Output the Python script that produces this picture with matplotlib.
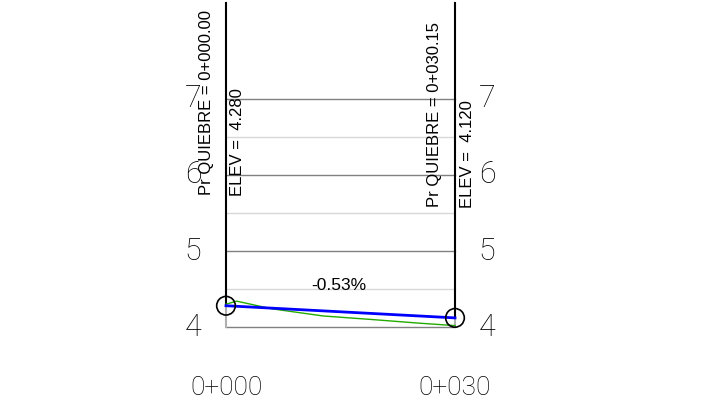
import matplotlib
matplotlib.use('Agg')
import matplotlib.pyplot as plt

# profile data
pvi_station = [0.0, 30.15]
pvi_elev = [4.280, 4.120]
pvi_labels = ['Pr QUIEBRE = 0+000.00', 'Pr QUIEBRE = 0+030.15']
elev_labels = ['ELEV =  4.280', 'ELEV =  4.120']
grade_label = '-0.53%'

ground_station = [0.0, 1.4, 6.0, 12.8, 19.0, 25.5, 29.9, 30.15]
ground_elev = [4.30, 4.34, 4.24, 4.145, 4.10, 4.05, 4.02, 4.02]

major_elev = [4, 5, 6, 7]
minor_elev = [4.5, 5.5, 6.5]
station_ticks = [0, 30]
station_labels = ['0+000', '0+030']

# pixel mapping of the reference
px_per_m = (455 - 226) / 30.15
px_per_unit = 76.0
x0 = -226 / px_per_m
x1 = (720 - 226) / px_per_m
y0 = 4 - (412 - 327) / px_per_unit
y1 = 4 + 327 / px_per_unit
top = 4 + (327 - 3) / px_per_unit

narrow = ['Liberation Sans', 'DejaVu Sans']
thin = ['Roboto', 'DejaVu Sans']

fig = plt.figure(figsize=(7.2, 4.12), dpi=100)
ax = fig.add_axes([0, 0, 1, 1])
ax.set_xlim(x0, x1)
ax.set_ylim(y0, y1)
ax.axis('off')

for e in minor_elev:
    ax.plot(pvi_station, [e, e], color='#d8d8d8', lw=1)
for e in major_elev:
    ax.plot(pvi_station, [e, e], color='#808080', lw=1)

for s, e in zip(pvi_station, pvi_elev):
    ax.plot([s, s], [major_elev[0], e], color='#b0b0b0', lw=1.5)
    ax.plot([s, s], [e, top], color='black', lw=1.5)

ax.plot(ground_station, ground_elev, color='#22aa00', lw=1)
ax.plot(pvi_station, pvi_elev, color='#0000ff', lw=2)
ax.scatter(pvi_station, pvi_elev, s=180, facecolors='none', edgecolors='black', lw=1.2, zorder=5)

ax.text(sum(pvi_station) / 2 - 0.2, (pvi_elev[0] + pvi_elev[1]) / 2 + 0.34, grade_label,
        ha='center', va='center', fontsize=12.5, family=narrow)

for i, (s, lab, el) in enumerate(zip(pvi_station, pvi_labels, elev_labels)):
    bottom = 195 if i == 0 else 207
    dx = -20 if i == 0 else -21
    ax.text(s + dx / px_per_m, 4 + (327 - bottom) / px_per_unit, lab,
            rotation=90, ha='center', va='bottom', fontsize=12, family=narrow)
    ax.text(s + 12 / px_per_m, 4 + (327 - bottom - 1) / px_per_unit,
            el, rotation=90, ha='center', va='bottom', fontsize=12, family=narrow)

for e in major_elev:
    ax.text(pvi_station[0] - 33 / px_per_m, e, str(e), ha='center', va='center',
            fontsize=22, family=thin, fontweight='light', color='black')
    ax.text(pvi_station[1] + 32 / px_per_m, e, str(e), ha='center', va='center',
            fontsize=22, family=thin, fontweight='light', color='black')

for s, lab in zip(station_ticks, station_labels):
    xs = pvi_station[0] if s == 0 else pvi_station[1]
    ax.text(xs, 4 - 61 / px_per_unit, lab, ha='center', va='center',
            fontsize=19, family=thin, fontweight='light', color='black')

fig.savefig('out.png', dpi=100)
